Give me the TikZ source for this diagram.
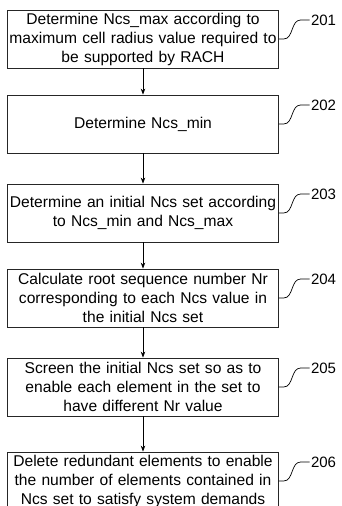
\documentclass[tikz,border=0pt]{standalone}
\usepackage{fontspec}
\setmainfont{Liberation Sans}
\usetikzlibrary{arrows.meta}
\begin{document}
\begin{tikzpicture}[x=1pt,y=-1pt,
 box/.style={draw=black!85, line width=0.8pt, minimum width=270.5pt, minimum height=58pt, text width=270pt, align=center, inner sep=0pt, font=\fontsize{15.6}{19}\selectfont},
 arr/.style={-{Stealth[length=6pt,width=4.5pt]}, line width=0.8pt},
 lead/.style={line width=0.7pt},
 num/.style={font=\fontsize{15}{16}\selectfont, inner sep=1pt, anchor=west}]
\useasboundingbox (0,0) rectangle (342,506);
\node[box] (b1) at (143,39) {Determine Ncs\_max according to\\maximum cell radius value required to\\be supported by RACH};
\node[box] (b2) at (143,124) {Determine Ncs\_min};
\node[box] (b3) at (143,213) {Determine an initial Ncs set according\\to Ncs\_min and Ncs\_max};
\node[box] (b4) at (143,298) {Calculate root sequence number Nr\\corresponding to each Ncs value in\\the initial Ncs set};
\node[box] (b5) at (143,387) {Screen the initial Ncs set so as to\\enable each element in the set to\\have different Nr value};
\node[box] (b6) at (143,481) {Delete redundant elements to enable\\the number of elements contained in\\Ncs set to satisfy system demands};
\foreach \a/\b in {b1/b2,b2/b3,b3/b4,b4/b5,b5/b6}
  \draw[arr] (\a) -- (\b);
\foreach \b/\n in {b1/201,b2/202,b3/203,b4/204,b5/205,b6/206}
  \draw[lead] (\b.east) -- ++(5,0) to[out=0,in=180] ++(17,-19) -- ++(9,0) node[num] (n\n) {\n};
\end{tikzpicture}
\end{document}
